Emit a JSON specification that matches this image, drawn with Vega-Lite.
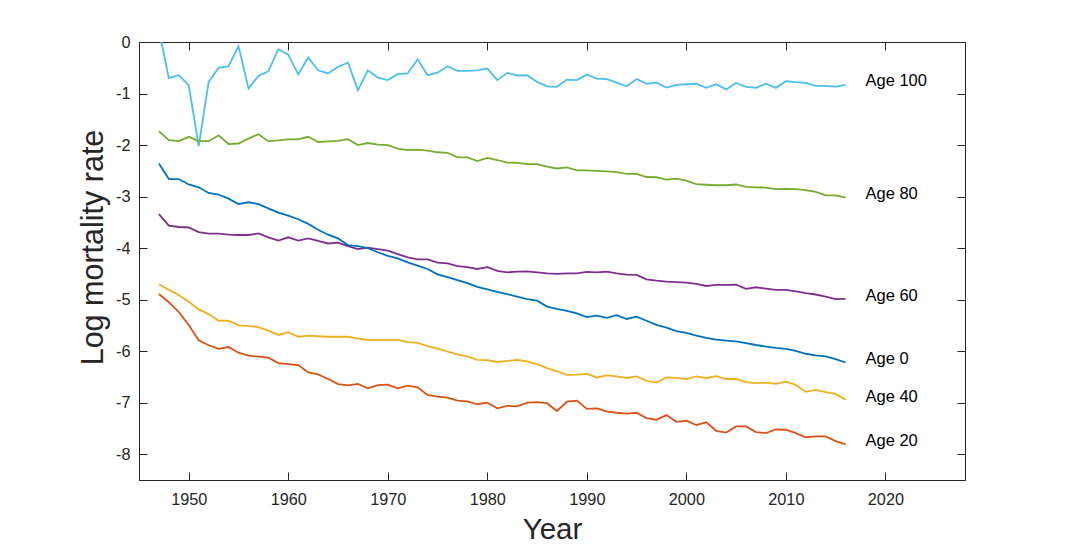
{
"$schema":"https://vega.github.io/schema/vega-lite/v6.json",
"autosize":"none",
"width":826,"height":438,
"padding":{"left":139,"top":42,"right":102,"bottom":67},
"background":"white",
"config":{
"view":{"stroke":"#262626","strokeWidth":1},
"axis":{"domainColor":"#262626","tickColor":"#262626","labelColor":"#262626","labelFont":"Liberation Sans","labelFontSize":16.3,"titleFont":"Liberation Sans","titleFontSize":29.5,"titleFontWeight":"normal","titleColor":"#262626","grid":false,"tickSize":-8,"domainWidth":1,"tickWidth":1}
},
"datasets":{
"series":[
{"a":"Age 100","year":1947,"v":0.23},{"a":"Age 100","year":1948,"v":-0.70},{"a":"Age 100","year":1949,"v":-0.645},{"a":"Age 100","year":1950,"v":-0.84},{"a":"Age 100","year":1951,"v":-2.02},{"a":"Age 100","year":1952,"v":-0.775},{"a":"Age 100","year":1953,"v":-0.50},{"a":"Age 100","year":1954,"v":-0.47},{"a":"Age 100","year":1955,"v":-0.08},{"a":"Age 100","year":1956,"v":-0.90},{"a":"Age 100","year":1957,"v":-0.66},{"a":"Age 100","year":1958,"v":-0.57},{"a":"Age 100","year":1959,"v":-0.14},{"a":"Age 100","year":1960,"v":-0.245},{"a":"Age 100","year":1961,"v":-0.63},{"a":"Age 100","year":1962,"v":-0.30},{"a":"Age 100","year":1963,"v":-0.55},{"a":"Age 100","year":1964,"v":-0.61},{"a":"Age 100","year":1965,"v":-0.48},{"a":"Age 100","year":1966,"v":-0.40},{"a":"Age 100","year":1967,"v":-0.935},{"a":"Age 100","year":1968,"v":-0.55},{"a":"Age 100","year":1969,"v":-0.69},{"a":"Age 100","year":1970,"v":-0.74},{"a":"Age 100","year":1971,"v":-0.625},{"a":"Age 100","year":1972,"v":-0.61},{"a":"Age 100","year":1973,"v":-0.335},{"a":"Age 100","year":1974,"v":-0.645},{"a":"Age 100","year":1975,"v":-0.595},{"a":"Age 100","year":1976,"v":-0.47},{"a":"Age 100","year":1977,"v":-0.56},{"a":"Age 100","year":1978,"v":-0.56},{"a":"Age 100","year":1979,"v":-0.55},{"a":"Age 100","year":1980,"v":-0.515},{"a":"Age 100","year":1981,"v":-0.74},{"a":"Age 100","year":1982,"v":-0.60},{"a":"Age 100","year":1983,"v":-0.65},{"a":"Age 100","year":1984,"v":-0.645},{"a":"Age 100","year":1985,"v":-0.775},{"a":"Age 100","year":1986,"v":-0.86},{"a":"Age 100","year":1987,"v":-0.87},{"a":"Age 100","year":1988,"v":-0.73},{"a":"Age 100","year":1989,"v":-0.74},{"a":"Age 100","year":1990,"v":-0.63},{"a":"Age 100","year":1991,"v":-0.71},{"a":"Age 100","year":1992,"v":-0.72},{"a":"Age 100","year":1993,"v":-0.79},{"a":"Age 100","year":1994,"v":-0.86},{"a":"Age 100","year":1995,"v":-0.72},{"a":"Age 100","year":1996,"v":-0.81},{"a":"Age 100","year":1997,"v":-0.79},{"a":"Age 100","year":1998,"v":-0.885},{"a":"Age 100","year":1999,"v":-0.83},{"a":"Age 100","year":2000,"v":-0.82},{"a":"Age 100","year":2001,"v":-0.81},{"a":"Age 100","year":2002,"v":-0.89},{"a":"Age 100","year":2003,"v":-0.82},{"a":"Age 100","year":2004,"v":-0.92},{"a":"Age 100","year":2005,"v":-0.795},{"a":"Age 100","year":2006,"v":-0.87},{"a":"Age 100","year":2007,"v":-0.89},{"a":"Age 100","year":2008,"v":-0.81},{"a":"Age 100","year":2009,"v":-0.89},{"a":"Age 100","year":2010,"v":-0.76},{"a":"Age 100","year":2011,"v":-0.78},{"a":"Age 100","year":2012,"v":-0.795},{"a":"Age 100","year":2013,"v":-0.85},{"a":"Age 100","year":2014,"v":-0.85},{"a":"Age 100","year":2015,"v":-0.865},{"a":"Age 100","year":2016,"v":-0.83},
{"a":"Age 80","year":1947,"v":-1.73},{"a":"Age 80","year":1948,"v":-1.905},{"a":"Age 80","year":1949,"v":-1.925},{"a":"Age 80","year":1950,"v":-1.84},{"a":"Age 80","year":1951,"v":-1.925},{"a":"Age 80","year":1952,"v":-1.925},{"a":"Age 80","year":1953,"v":-1.81},{"a":"Age 80","year":1954,"v":-1.98},{"a":"Age 80","year":1955,"v":-1.97},{"a":"Age 80","year":1956,"v":-1.875},{"a":"Age 80","year":1957,"v":-1.79},{"a":"Age 80","year":1958,"v":-1.925},{"a":"Age 80","year":1959,"v":-1.91},{"a":"Age 80","year":1960,"v":-1.89},{"a":"Age 80","year":1961,"v":-1.89},{"a":"Age 80","year":1962,"v":-1.84},{"a":"Age 80","year":1963,"v":-1.94},{"a":"Age 80","year":1964,"v":-1.93},{"a":"Age 80","year":1965,"v":-1.92},{"a":"Age 80","year":1966,"v":-1.885},{"a":"Age 80","year":1967,"v":-2.00},{"a":"Age 80","year":1968,"v":-1.96},{"a":"Age 80","year":1969,"v":-1.99},{"a":"Age 80","year":1970,"v":-2.00},{"a":"Age 80","year":1971,"v":-2.07},{"a":"Age 80","year":1972,"v":-2.10},{"a":"Age 80","year":1973,"v":-2.09},{"a":"Age 80","year":1974,"v":-2.11},{"a":"Age 80","year":1975,"v":-2.14},{"a":"Age 80","year":1976,"v":-2.15},{"a":"Age 80","year":1977,"v":-2.24},{"a":"Age 80","year":1978,"v":-2.24},{"a":"Age 80","year":1979,"v":-2.31},{"a":"Age 80","year":1980,"v":-2.25},{"a":"Age 80","year":1981,"v":-2.29},{"a":"Age 80","year":1982,"v":-2.34},{"a":"Age 80","year":1983,"v":-2.345},{"a":"Age 80","year":1984,"v":-2.37},{"a":"Age 80","year":1985,"v":-2.37},{"a":"Age 80","year":1986,"v":-2.42},{"a":"Age 80","year":1987,"v":-2.455},{"a":"Age 80","year":1988,"v":-2.435},{"a":"Age 80","year":1989,"v":-2.49},{"a":"Age 80","year":1990,"v":-2.49},{"a":"Age 80","year":1991,"v":-2.50},{"a":"Age 80","year":1992,"v":-2.51},{"a":"Age 80","year":1993,"v":-2.525},{"a":"Age 80","year":1994,"v":-2.56},{"a":"Age 80","year":1995,"v":-2.56},{"a":"Age 80","year":1996,"v":-2.62},{"a":"Age 80","year":1997,"v":-2.625},{"a":"Age 80","year":1998,"v":-2.67},{"a":"Age 80","year":1999,"v":-2.65},{"a":"Age 80","year":2000,"v":-2.69},{"a":"Age 80","year":2001,"v":-2.76},{"a":"Age 80","year":2002,"v":-2.77},{"a":"Age 80","year":2003,"v":-2.78},{"a":"Age 80","year":2004,"v":-2.78},{"a":"Age 80","year":2005,"v":-2.765},{"a":"Age 80","year":2006,"v":-2.81},{"a":"Age 80","year":2007,"v":-2.82},{"a":"Age 80","year":2008,"v":-2.825},{"a":"Age 80","year":2009,"v":-2.855},{"a":"Age 80","year":2010,"v":-2.85},{"a":"Age 80","year":2011,"v":-2.855},{"a":"Age 80","year":2012,"v":-2.875},{"a":"Age 80","year":2013,"v":-2.91},{"a":"Age 80","year":2014,"v":-2.975},{"a":"Age 80","year":2015,"v":-2.975},{"a":"Age 80","year":2016,"v":-3.02},
{"a":"Age 60","year":1947,"v":-3.34},{"a":"Age 60","year":1948,"v":-3.565},{"a":"Age 60","year":1949,"v":-3.59},{"a":"Age 60","year":1950,"v":-3.60},{"a":"Age 60","year":1951,"v":-3.69},{"a":"Age 60","year":1952,"v":-3.72},{"a":"Age 60","year":1953,"v":-3.72},{"a":"Age 60","year":1954,"v":-3.74},{"a":"Age 60","year":1955,"v":-3.745},{"a":"Age 60","year":1956,"v":-3.745},{"a":"Age 60","year":1957,"v":-3.715},{"a":"Age 60","year":1958,"v":-3.79},{"a":"Age 60","year":1959,"v":-3.855},{"a":"Age 60","year":1960,"v":-3.79},{"a":"Age 60","year":1961,"v":-3.855},{"a":"Age 60","year":1962,"v":-3.81},{"a":"Age 60","year":1963,"v":-3.86},{"a":"Age 60","year":1964,"v":-3.91},{"a":"Age 60","year":1965,"v":-3.895},{"a":"Age 60","year":1966,"v":-3.96},{"a":"Age 60","year":1967,"v":-4.02},{"a":"Age 60","year":1968,"v":-3.99},{"a":"Age 60","year":1969,"v":-4.02},{"a":"Age 60","year":1970,"v":-4.05},{"a":"Age 60","year":1971,"v":-4.115},{"a":"Age 60","year":1972,"v":-4.18},{"a":"Age 60","year":1973,"v":-4.22},{"a":"Age 60","year":1974,"v":-4.22},{"a":"Age 60","year":1975,"v":-4.28},{"a":"Age 60","year":1976,"v":-4.295},{"a":"Age 60","year":1977,"v":-4.35},{"a":"Age 60","year":1978,"v":-4.37},{"a":"Age 60","year":1979,"v":-4.405},{"a":"Age 60","year":1980,"v":-4.37},{"a":"Age 60","year":1981,"v":-4.44},{"a":"Age 60","year":1982,"v":-4.47},{"a":"Age 60","year":1983,"v":-4.455},{"a":"Age 60","year":1984,"v":-4.45},{"a":"Age 60","year":1985,"v":-4.47},{"a":"Age 60","year":1986,"v":-4.49},{"a":"Age 60","year":1987,"v":-4.50},{"a":"Age 60","year":1988,"v":-4.49},{"a":"Age 60","year":1989,"v":-4.49},{"a":"Age 60","year":1990,"v":-4.46},{"a":"Age 60","year":1991,"v":-4.47},{"a":"Age 60","year":1992,"v":-4.455},{"a":"Age 60","year":1993,"v":-4.49},{"a":"Age 60","year":1994,"v":-4.515},{"a":"Age 60","year":1995,"v":-4.52},{"a":"Age 60","year":1996,"v":-4.605},{"a":"Age 60","year":1997,"v":-4.63},{"a":"Age 60","year":1998,"v":-4.65},{"a":"Age 60","year":1999,"v":-4.66},{"a":"Age 60","year":2000,"v":-4.67},{"a":"Age 60","year":2001,"v":-4.695},{"a":"Age 60","year":2002,"v":-4.735},{"a":"Age 60","year":2003,"v":-4.715},{"a":"Age 60","year":2004,"v":-4.715},{"a":"Age 60","year":2005,"v":-4.71},{"a":"Age 60","year":2006,"v":-4.79},{"a":"Age 60","year":2007,"v":-4.76},{"a":"Age 60","year":2008,"v":-4.785},{"a":"Age 60","year":2009,"v":-4.81},{"a":"Age 60","year":2010,"v":-4.81},{"a":"Age 60","year":2011,"v":-4.84},{"a":"Age 60","year":2012,"v":-4.875},{"a":"Age 60","year":2013,"v":-4.90},{"a":"Age 60","year":2014,"v":-4.94},{"a":"Age 60","year":2015,"v":-4.99},{"a":"Age 60","year":2016,"v":-4.985},
{"a":"Age 0","year":1947,"v":-2.36},{"a":"Age 0","year":1948,"v":-2.66},{"a":"Age 0","year":1949,"v":-2.66},{"a":"Age 0","year":1950,"v":-2.765},{"a":"Age 0","year":1951,"v":-2.82},{"a":"Age 0","year":1952,"v":-2.93},{"a":"Age 0","year":1953,"v":-2.96},{"a":"Age 0","year":1954,"v":-3.04},{"a":"Age 0","year":1955,"v":-3.145},{"a":"Age 0","year":1956,"v":-3.11},{"a":"Age 0","year":1957,"v":-3.145},{"a":"Age 0","year":1958,"v":-3.23},{"a":"Age 0","year":1959,"v":-3.31},{"a":"Age 0","year":1960,"v":-3.37},{"a":"Age 0","year":1961,"v":-3.44},{"a":"Age 0","year":1962,"v":-3.53},{"a":"Age 0","year":1963,"v":-3.645},{"a":"Age 0","year":1964,"v":-3.74},{"a":"Age 0","year":1965,"v":-3.81},{"a":"Age 0","year":1966,"v":-3.94},{"a":"Age 0","year":1967,"v":-3.96},{"a":"Age 0","year":1968,"v":-4.00},{"a":"Age 0","year":1969,"v":-4.08},{"a":"Age 0","year":1970,"v":-4.15},{"a":"Age 0","year":1971,"v":-4.20},{"a":"Age 0","year":1972,"v":-4.275},{"a":"Age 0","year":1973,"v":-4.34},{"a":"Age 0","year":1974,"v":-4.405},{"a":"Age 0","year":1975,"v":-4.51},{"a":"Age 0","year":1976,"v":-4.565},{"a":"Age 0","year":1977,"v":-4.62},{"a":"Age 0","year":1978,"v":-4.68},{"a":"Age 0","year":1979,"v":-4.75},{"a":"Age 0","year":1980,"v":-4.80},{"a":"Age 0","year":1981,"v":-4.85},{"a":"Age 0","year":1982,"v":-4.895},{"a":"Age 0","year":1983,"v":-4.94},{"a":"Age 0","year":1984,"v":-4.99},{"a":"Age 0","year":1985,"v":-5.02},{"a":"Age 0","year":1986,"v":-5.135},{"a":"Age 0","year":1987,"v":-5.18},{"a":"Age 0","year":1988,"v":-5.22},{"a":"Age 0","year":1989,"v":-5.265},{"a":"Age 0","year":1990,"v":-5.34},{"a":"Age 0","year":1991,"v":-5.31},{"a":"Age 0","year":1992,"v":-5.355},{"a":"Age 0","year":1993,"v":-5.30},{"a":"Age 0","year":1994,"v":-5.375},{"a":"Age 0","year":1995,"v":-5.33},{"a":"Age 0","year":1996,"v":-5.41},{"a":"Age 0","year":1997,"v":-5.49},{"a":"Age 0","year":1998,"v":-5.545},{"a":"Age 0","year":1999,"v":-5.61},{"a":"Age 0","year":2000,"v":-5.645},{"a":"Age 0","year":2001,"v":-5.70},{"a":"Age 0","year":2002,"v":-5.74},{"a":"Age 0","year":2003,"v":-5.775},{"a":"Age 0","year":2004,"v":-5.795},{"a":"Age 0","year":2005,"v":-5.81},{"a":"Age 0","year":2006,"v":-5.845},{"a":"Age 0","year":2007,"v":-5.88},{"a":"Age 0","year":2008,"v":-5.91},{"a":"Age 0","year":2009,"v":-5.935},{"a":"Age 0","year":2010,"v":-5.955},{"a":"Age 0","year":2011,"v":-5.995},{"a":"Age 0","year":2012,"v":-6.05},{"a":"Age 0","year":2013,"v":-6.08},{"a":"Age 0","year":2014,"v":-6.10},{"a":"Age 0","year":2015,"v":-6.155},{"a":"Age 0","year":2016,"v":-6.22},
{"a":"Age 40","year":1947,"v":-4.70},{"a":"Age 40","year":1948,"v":-4.81},{"a":"Age 40","year":1949,"v":-4.91},{"a":"Age 40","year":1950,"v":-5.04},{"a":"Age 40","year":1951,"v":-5.19},{"a":"Age 40","year":1952,"v":-5.28},{"a":"Age 40","year":1953,"v":-5.41},{"a":"Age 40","year":1954,"v":-5.41},{"a":"Age 40","year":1955,"v":-5.50},{"a":"Age 40","year":1956,"v":-5.51},{"a":"Age 40","year":1957,"v":-5.535},{"a":"Age 40","year":1958,"v":-5.60},{"a":"Age 40","year":1959,"v":-5.685},{"a":"Age 40","year":1960,"v":-5.63},{"a":"Age 40","year":1961,"v":-5.72},{"a":"Age 40","year":1962,"v":-5.70},{"a":"Age 40","year":1963,"v":-5.71},{"a":"Age 40","year":1964,"v":-5.72},{"a":"Age 40","year":1965,"v":-5.72},{"a":"Age 40","year":1966,"v":-5.72},{"a":"Age 40","year":1967,"v":-5.755},{"a":"Age 40","year":1968,"v":-5.78},{"a":"Age 40","year":1969,"v":-5.78},{"a":"Age 40","year":1970,"v":-5.78},{"a":"Age 40","year":1971,"v":-5.78},{"a":"Age 40","year":1972,"v":-5.825},{"a":"Age 40","year":1973,"v":-5.84},{"a":"Age 40","year":1974,"v":-5.90},{"a":"Age 40","year":1975,"v":-5.95},{"a":"Age 40","year":1976,"v":-6.01},{"a":"Age 40","year":1977,"v":-6.06},{"a":"Age 40","year":1978,"v":-6.10},{"a":"Age 40","year":1979,"v":-6.17},{"a":"Age 40","year":1980,"v":-6.175},{"a":"Age 40","year":1981,"v":-6.21},{"a":"Age 40","year":1982,"v":-6.19},{"a":"Age 40","year":1983,"v":-6.17},{"a":"Age 40","year":1984,"v":-6.20},{"a":"Age 40","year":1985,"v":-6.25},{"a":"Age 40","year":1986,"v":-6.33},{"a":"Age 40","year":1987,"v":-6.39},{"a":"Age 40","year":1988,"v":-6.46},{"a":"Age 40","year":1989,"v":-6.455},{"a":"Age 40","year":1990,"v":-6.44},{"a":"Age 40","year":1991,"v":-6.51},{"a":"Age 40","year":1992,"v":-6.47},{"a":"Age 40","year":1993,"v":-6.49},{"a":"Age 40","year":1994,"v":-6.52},{"a":"Age 40","year":1995,"v":-6.49},{"a":"Age 40","year":1996,"v":-6.575},{"a":"Age 40","year":1997,"v":-6.61},{"a":"Age 40","year":1998,"v":-6.51},{"a":"Age 40","year":1999,"v":-6.52},{"a":"Age 40","year":2000,"v":-6.54},{"a":"Age 40","year":2001,"v":-6.49},{"a":"Age 40","year":2002,"v":-6.52},{"a":"Age 40","year":2003,"v":-6.485},{"a":"Age 40","year":2004,"v":-6.54},{"a":"Age 40","year":2005,"v":-6.54},{"a":"Age 40","year":2006,"v":-6.60},{"a":"Age 40","year":2007,"v":-6.62},{"a":"Age 40","year":2008,"v":-6.61},{"a":"Age 40","year":2009,"v":-6.635},{"a":"Age 40","year":2010,"v":-6.59},{"a":"Age 40","year":2011,"v":-6.655},{"a":"Age 40","year":2012,"v":-6.79},{"a":"Age 40","year":2013,"v":-6.75},{"a":"Age 40","year":2014,"v":-6.795},{"a":"Age 40","year":2015,"v":-6.83},{"a":"Age 40","year":2016,"v":-6.94},
{"a":"Age 20","year":1947,"v":-4.89},{"a":"Age 20","year":1948,"v":-5.05},{"a":"Age 20","year":1949,"v":-5.24},{"a":"Age 20","year":1950,"v":-5.49},{"a":"Age 20","year":1951,"v":-5.79},{"a":"Age 20","year":1952,"v":-5.885},{"a":"Age 20","year":1953,"v":-5.955},{"a":"Age 20","year":1954,"v":-5.92},{"a":"Age 20","year":1955,"v":-6.03},{"a":"Age 20","year":1956,"v":-6.085},{"a":"Age 20","year":1957,"v":-6.105},{"a":"Age 20","year":1958,"v":-6.125},{"a":"Age 20","year":1959,"v":-6.23},{"a":"Age 20","year":1960,"v":-6.25},{"a":"Age 20","year":1961,"v":-6.27},{"a":"Age 20","year":1962,"v":-6.41},{"a":"Age 20","year":1963,"v":-6.45},{"a":"Age 20","year":1964,"v":-6.54},{"a":"Age 20","year":1965,"v":-6.64},{"a":"Age 20","year":1966,"v":-6.665},{"a":"Age 20","year":1967,"v":-6.635},{"a":"Age 20","year":1968,"v":-6.72},{"a":"Age 20","year":1969,"v":-6.66},{"a":"Age 20","year":1970,"v":-6.65},{"a":"Age 20","year":1971,"v":-6.72},{"a":"Age 20","year":1972,"v":-6.67},{"a":"Age 20","year":1973,"v":-6.70},{"a":"Age 20","year":1974,"v":-6.85},{"a":"Age 20","year":1975,"v":-6.88},{"a":"Age 20","year":1976,"v":-6.90},{"a":"Age 20","year":1977,"v":-6.96},{"a":"Age 20","year":1978,"v":-6.975},{"a":"Age 20","year":1979,"v":-7.03},{"a":"Age 20","year":1980,"v":-7.00},{"a":"Age 20","year":1981,"v":-7.11},{"a":"Age 20","year":1982,"v":-7.06},{"a":"Age 20","year":1983,"v":-7.07},{"a":"Age 20","year":1984,"v":-7.00},{"a":"Age 20","year":1985,"v":-6.99},{"a":"Age 20","year":1986,"v":-7.01},{"a":"Age 20","year":1987,"v":-7.16},{"a":"Age 20","year":1988,"v":-6.98},{"a":"Age 20","year":1989,"v":-6.96},{"a":"Age 20","year":1990,"v":-7.12},{"a":"Age 20","year":1991,"v":-7.11},{"a":"Age 20","year":1992,"v":-7.17},{"a":"Age 20","year":1993,"v":-7.195},{"a":"Age 20","year":1994,"v":-7.21},{"a":"Age 20","year":1995,"v":-7.195},{"a":"Age 20","year":1996,"v":-7.30},{"a":"Age 20","year":1997,"v":-7.33},{"a":"Age 20","year":1998,"v":-7.24},{"a":"Age 20","year":1999,"v":-7.37},{"a":"Age 20","year":2000,"v":-7.35},{"a":"Age 20","year":2001,"v":-7.435},{"a":"Age 20","year":2002,"v":-7.38},{"a":"Age 20","year":2003,"v":-7.545},{"a":"Age 20","year":2004,"v":-7.58},{"a":"Age 20","year":2005,"v":-7.46},{"a":"Age 20","year":2006,"v":-7.46},{"a":"Age 20","year":2007,"v":-7.57},{"a":"Age 20","year":2008,"v":-7.59},{"a":"Age 20","year":2009,"v":-7.52},{"a":"Age 20","year":2010,"v":-7.525},{"a":"Age 20","year":2011,"v":-7.59},{"a":"Age 20","year":2012,"v":-7.67},{"a":"Age 20","year":2013,"v":-7.655},{"a":"Age 20","year":2014,"v":-7.655},{"a":"Age 20","year":2015,"v":-7.745},{"a":"Age 20","year":2016,"v":-7.81}
],
"labels":[
{"a":"Age 100","year":2018,"v":-0.76},
{"a":"Age 80","year":2018,"v":-2.955},
{"a":"Age 60","year":2018,"v":-4.93},
{"a":"Age 0","year":2018,"v":-6.15},
{"a":"Age 40","year":2018,"v":-6.885},
{"a":"Age 20","year":2018,"v":-7.74}
]
},
"resolve":{"axis":{"x":"independent","y":"independent"}},
"layer":[
{
"data":{"name":"series"},
"mark":{"type":"line","clip":true,"strokeWidth":1.8},
"encoding":{
"x":{"field":"year","type":"quantitative","scale":{"domain":[1945,2028],"nice":false,"zero":false},"axis":{"orient":"bottom","values":[1950,1960,1970,1980,1990,2000,2010,2020],"format":"d","title":"Year","labelPadding":19,"titlePadding":8}},
"y":{"field":"v","type":"quantitative","scale":{"domain":[-8.5,0],"nice":false,"zero":false},"axis":{"orient":"left","values":[-8,-7,-6,-5,-4,-3,-2,-1,0],"labelExpr":"toString(datum.value)","title":"Log mortality rate","titleFontSize":30.5,"labelPadding":17,"titlePadding":7,"titleY":205}},
"color":{"field":"a","type":"nominal","scale":{"domain":["Age 0","Age 20","Age 40","Age 60","Age 80","Age 100"],"range":["#0072BD","#D95319","#EDB120","#7E2F8E","#77AC30","#4DBEEE"]},"legend":null},
"order":{"field":"year","type":"quantitative"}
}
},
{
"data":{"name":"labels"},
"mark":{"type":"text","align":"left","baseline":"middle","font":"Liberation Sans","fontSize":16.5,"color":"#000000"},
"encoding":{
"x":{"field":"year","type":"quantitative","axis":{"orient":"top","values":[1950,1960,1970,1980,1990,2000,2010,2020],"labels":false,"title":null,"domain":false}},
"y":{"field":"v","type":"quantitative","axis":{"orient":"right","values":[-8,-7,-6,-5,-4,-3,-2,-1,0],"labels":false,"title":null,"domain":false}},
"text":{"field":"a","type":"nominal"}
}
}
]
}
